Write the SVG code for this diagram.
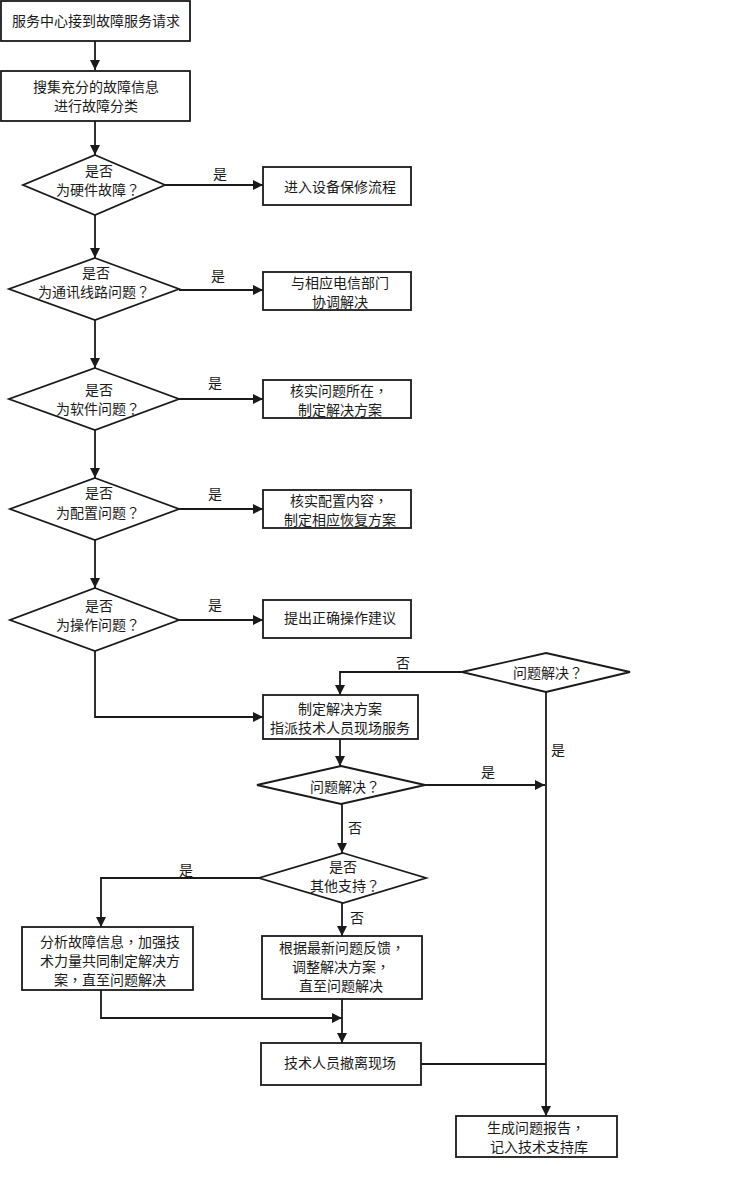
<svg xmlns="http://www.w3.org/2000/svg" width="750" height="1177" viewBox="0 0 750 1177">
<style>
.n{fill:#fff;stroke:#1a1a1a;stroke-width:1.8}
.t{font-family:"Noto Sans CJK SC","Noto Sans",sans-serif;font-size:14px;fill:#1a1a1a;text-anchor:middle}
.p{font-family:"Noto Sans CJK TC","Noto Sans CJK SC",sans-serif}
.c{fill:none;stroke:#1a1a1a;stroke-width:1.8}
.a{marker-end:url(#ah)}
</style>
<defs>
<marker id="ah" markerUnits="userSpaceOnUse" markerWidth="10" markerHeight="10" refX="10" refY="5" orient="auto" viewBox="0 0 10 10">
<path d="M0,0 L10,5 L0,10 z" fill="#1a1a1a"/>
</marker>
</defs>
<rect width="750" height="1177" fill="#fff"/>
<g id="connectors">
<path class="c a" d="M95,41 V70"/>
<path class="c a" d="M95,121 V155"/>
<path class="c a" d="M165,185 H263"/>
<path class="c a" d="M95,215 V258"/>
<path class="c a" d="M179,290 H263"/>
<path class="c a" d="M95,320 V368"/>
<path class="c a" d="M179,399 H263"/>
<path class="c a" d="M95,430 V478"/>
<path class="c a" d="M179,509 H263"/>
<path class="c a" d="M95,540 V588"/>
<path class="c a" d="M179,620 H263"/>
<path class="c a" d="M95,651 V717 H263"/>
<path class="c a" d="M462,672 H340 V695"/>
<path class="c a" d="M546,692 V1116"/>
<path class="c a" d="M340,739 V766"/>
<path class="c a" d="M425,785 H545"/>
<path class="c a" d="M342,804 V853"/>
<path class="c a" d="M259,878 H101 V927"/>
<path class="c a" d="M342,903 V936"/>
<path class="c a" d="M101,990 V1018 H342"/>
<path class="c a" d="M342,999 V1043"/>
<path class="c" d="M421,1064 H546"/>
<text class="t" x="220" y="179">是</text>
<text class="t" x="218" y="281">是</text>
<text class="t" x="215" y="388">是</text>
<text class="t" x="215" y="499">是</text>
<text class="t" x="215" y="610">是</text>
<text class="t" x="403" y="668">否</text>
<text class="t" x="558" y="755">是</text>
<text class="t" x="488" y="777">是</text>
<text class="t" x="355" y="833">否</text>
<text class="t" x="186" y="875">是</text>
<text class="t" x="357" y="923">否</text>
</g>
<g id="n1"><rect class="n" x="1" y="1" width="189" height="40"/><text class="t" x="96" y="26">服务中心接到故障服务请求</text></g>
<g id="n2"><rect class="n" x="1" y="71" width="189" height="50"/><text class="t" x="96" y="92">搜集充分的故障信息</text><text class="t" x="96" y="111">进行故障分类</text></g>
<g id="d1"><polygon class="n" points="95,155 165,185 95,215 23,185"/><text class="t" x="99" y="176">是否</text><text class="t" x="98" y="195">为硬件故障<tspan class="p">？</tspan></text></g>
<g id="b1"><rect class="n" x="263" y="167" width="148" height="38"/><text class="t" x="340" y="192">进入设备保修流程</text></g>
<g id="d2"><polygon class="n" points="95,258 179,289 95,320 9,289"/><text class="t" x="96" y="278">是否</text><text class="t" x="94" y="297">为通讯线路问题<tspan class="p">？</tspan></text></g>
<g id="b2"><rect class="n" x="263" y="272" width="148" height="38"/><text class="t" x="340" y="288">与相应电信部门</text><text class="t" x="340" y="307">协调解决</text></g>
<g id="d3"><polygon class="n" points="95,368 179,399 95,430 9,399"/><text class="t" x="99" y="395">是否</text><text class="t" x="98" y="414">为软件问题<tspan class="p">？</tspan></text></g>
<g id="b3"><rect class="n" x="263" y="380" width="148" height="38"/><text class="t" x="339" y="396">核实问题所在<tspan class="p">，</tspan></text><text class="t" x="340" y="415">制定解决方案</text></g>
<g id="d4"><polygon class="n" points="95,478 179,509 95,540 10,509"/><text class="t" x="99" y="498">是否</text><text class="t" x="98" y="518">为配置问题<tspan class="p">？</tspan></text></g>
<g id="b4"><rect class="n" x="263" y="490" width="148" height="38"/><text class="t" x="339" y="506">核实配置内容<tspan class="p">，</tspan></text><text class="t" x="340" y="525">制定相应恢复方案</text></g>
<g id="d5"><polygon class="n" points="95,588 179,620 95,651 10,620"/><text class="t" x="99" y="611">是否</text><text class="t" x="98" y="630">为操作问题<tspan class="p">？</tspan></text></g>
<g id="b5"><rect class="n" x="263" y="600" width="148" height="38"/><text class="t" x="340" y="623">提出正确操作建议</text></g>
<g id="d6"><polygon class="n" points="546,653 630,672 546,692 462,672"/><text class="t" x="548" y="678">问题解决<tspan class="p">？</tspan></text></g>
<g id="b6"><rect class="n" x="263" y="695" width="155" height="44"/><text class="t" x="340" y="714">制定解决方案</text><text class="t" x="340" y="733">指派技术人员现场服务</text></g>
<g id="d7"><polygon class="n" points="341,766 425,785 341,804 257,785"/><text class="t" x="345" y="792">问题解决<tspan class="p">？</tspan></text></g>
<g id="d8"><polygon class="n" points="343,853 426,878 343,903 259,878"/><text class="t" x="343" y="872">是否</text><text class="t" x="345" y="891">其他支持<tspan class="p">？</tspan></text></g>
<g id="b7"><rect class="n" x="22" y="927" width="171" height="63"/><text class="t" x="110" y="947">分析故障信息<tspan class="p">，</tspan>加强技</text><text class="t" x="110" y="966">术力量共同制定解决方</text><text class="t" x="110" y="985">案<tspan class="p">，</tspan>直至问题解决</text></g>
<g id="b8"><rect class="n" x="262" y="936" width="160" height="63"/><text class="t" x="342" y="953">根据最新问题反馈<tspan class="p">，</tspan></text><text class="t" x="341" y="972">调整解决方案<tspan class="p">，</tspan></text><text class="t" x="341" y="991">直至问题解决</text></g>
<g id="b9"><rect class="n" x="261" y="1043" width="160" height="42"/><text class="t" x="340" y="1068">技术人员撤离现场</text></g>
<g id="b10"><rect class="n" x="456" y="1116" width="161" height="41"/><text class="t" x="536" y="1133">生成问题报告<tspan class="p">，</tspan></text><text class="t" x="539" y="1152">记入技术支持库</text></g>
</svg>
